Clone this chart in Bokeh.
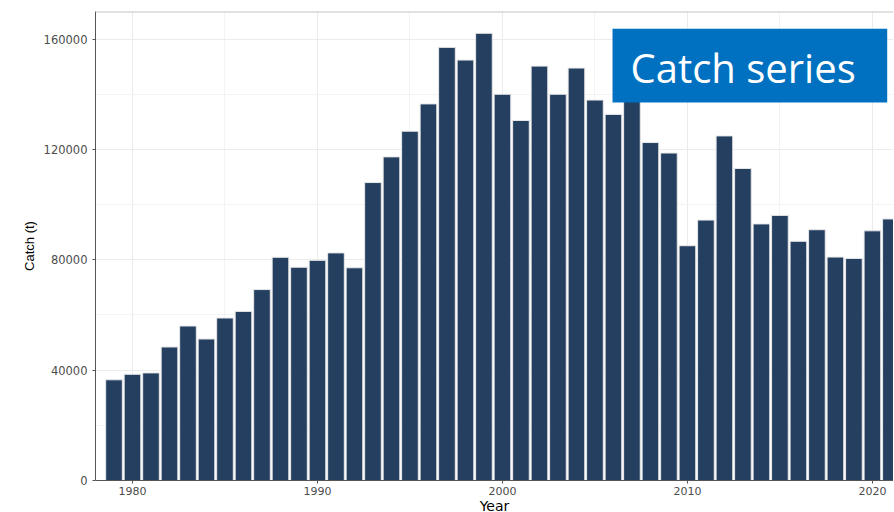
from bokeh.plotting import figure
from bokeh.models import FixedTicker, BoxAnnotation, Label, Span, Range1d
from bokeh.embed import file_html
from bokeh.resources import INLINE

years = list(range(1979, 2022))
catch = [36500, 38500, 39000, 48400, 56000, 51300, 58900, 61300, 69200, 80900,
         77300, 79800, 82500, 77100, 108000, 117300, 126600, 136500, 157000, 152400,
         162100, 140000, 130500, 150200, 140000, 149500, 137900, 132700, 142000, 122500,
         118700, 85100, 94400, 124900, 113100, 93000, 96100, 86700, 90900, 81000,
         80500, 90500, 94800]

y_ticks = [0, 40000, 80000, 120000, 160000]
y_minor = [20000, 60000, 100000, 140000]
x_ticks = [1980, 1990, 2000, 2010, 2020]
x_minor = [1985, 1995, 2005, 2015]
title_text = "Catch series"
x_label = "Year"
y_label = "Catch (t)"

p = figure(frame_width=798, frame_height=469, output_backend="svg", toolbar_location=None,
           x_range=Range1d(1978.0, 2021.14), y_range=Range1d(0, 170000),
           min_border_left=95, min_border_right=0, min_border_top=11, min_border_bottom=28)
p.outline_line_color = None
p.background_fill_color = "white"
p.border_fill_color = "white"

p.vbar(x=years, top=catch, width=0.9, fill_color="#243f60", line_color="#e8e8e8", line_width=1)

p.xaxis.ticker = FixedTicker(ticks=x_ticks, minor_ticks=x_minor)
p.yaxis.ticker = FixedTicker(ticks=y_ticks, minor_ticks=y_minor)
p.yaxis.formatter.use_scientific = False

for ax in (p.xaxis[0], p.yaxis[0]):
    ax.axis_line_color = "#555555"
    ax.major_tick_line_color = "#555555"
    ax.major_tick_out = 3
    ax.major_tick_in = 0
    ax.minor_tick_line_color = None
    ax.major_label_text_color = "#4d4d4d"
    ax.major_label_text_font = "DejaVu Sans"
    ax.axis_label_text_font_style = "normal"
    ax.axis_label_text_color = "black"

p.xaxis.major_label_text_font_size = "11px"
p.yaxis.major_label_text_font_size = "11.5px"
p.xaxis.major_label_standoff = 2
p.yaxis.major_label_standoff = 4
p.xaxis.axis_label = x_label
p.xaxis.axis_label_text_font = "DejaVu Sans"
p.xaxis.axis_label_text_font_size = "14px"
p.xaxis.axis_label_standoff = 0
p.yaxis.axis_label = y_label
p.yaxis.axis_label_text_font = "Liberation Sans"
p.yaxis.axis_label_text_font_size = "13px"
p.yaxis.axis_label_standoff = 4

p.xgrid.grid_line_color = "#ebebeb"
p.ygrid.grid_line_color = "#ebebeb"
p.xgrid.minor_grid_line_color = "#f3f3f3"
p.ygrid.minor_grid_line_color = "#f3f3f3"

p.add_layout(Span(location=170000, dimension="width", line_color="#c4c4c4", line_width=2))

p.add_layout(BoxAnnotation(left=2005.95, right=2020.8, bottom=137060, top=163760,
                           fill_color="#0070c0", fill_alpha=1.0, line_color=None))
p.add_layout(Label(x=2006.92, y=149700, text=title_text, text_color="white",
                   text_font="Open Sans", text_font_size="40px", text_baseline="alphabetic"))

open("out.html", "w").write(file_html(p, INLINE))
